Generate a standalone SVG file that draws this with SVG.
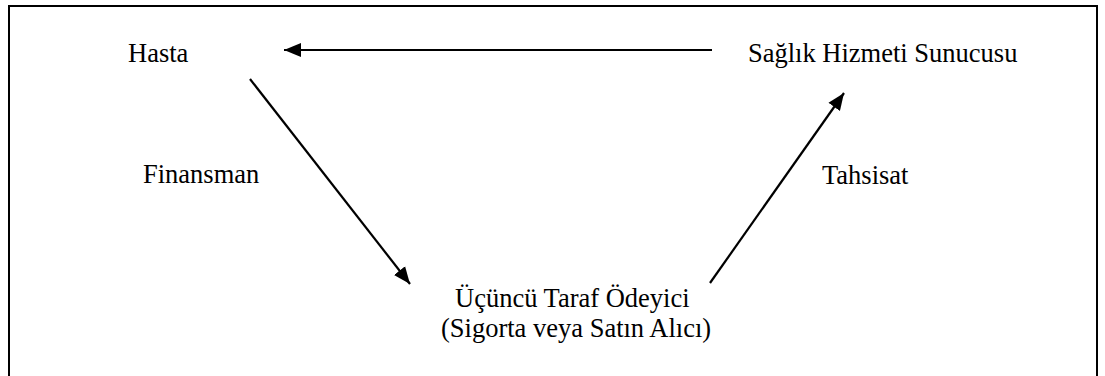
<svg xmlns="http://www.w3.org/2000/svg" width="1105" height="376" viewBox="0 0 1105 376">
  <style>
    .lbl { font-family: "Liberation Serif", "Times New Roman", serif; font-size: 26.5px; fill: #000; }
    .frame { fill: none; stroke: #000; stroke-width: 2; }
    .edge { fill: none; stroke: #000; stroke-width: 2.2; marker-end: url(#head); }
  </style>
  <defs>
    <marker id="head" markerUnits="userSpaceOnUse" markerWidth="18" markerHeight="16" viewBox="0 0 18 16" refX="17" refY="8" orient="auto">
      <path d="M0,1 L17,8 L0,15 Z" fill="#000"/>
    </marker>
  </defs>
  <!-- outer frame; bottom edge runs past the canvas -->
  <rect class="frame" x="9" y="6" width="1088" height="400"/>
  <g id="connectors">
    <line class="edge" x1="712" y1="50" x2="284" y2="50"/>
    <line class="edge" x1="250" y1="79" x2="410" y2="284"/>
    <line class="edge" x1="710" y1="283" x2="844" y2="93"/>
  </g>
  <g id="hasta"><text class="lbl" x="128" y="62">Hasta</text></g>
  <g id="saglik-hizmeti-sunucusu"><text class="lbl" x="748" y="62">Sağlık Hizmeti Sunucusu</text></g>
  <g id="finansman"><text class="lbl" x="143" y="183">Finansman</text></g>
  <g id="tahsisat"><text class="lbl" x="822" y="184">Tahsisat</text></g>
  <g id="ucuncu-taraf-odeyici">
    <text class="lbl" x="455" y="307">Üçüncü Taraf Ödeyici</text>
    <text class="lbl" x="441" y="337">(Sigorta veya Satın Alıcı)</text>
  </g>
</svg>
